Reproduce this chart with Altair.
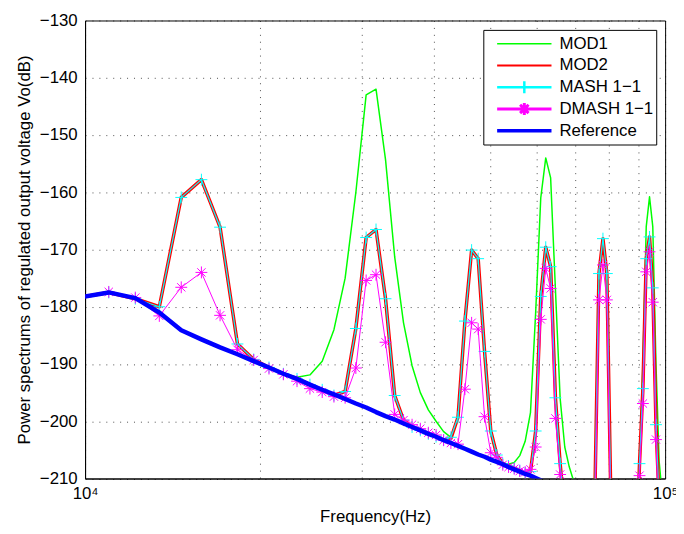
import altair as alt
import pandas as pd

# Frequency bins (Hz)
freq_hz = [9765.6, 10986.3, 12207.0, 13427.7, 14648.4, 15869.1, 17089.8, 18310.5, 19531.3, 20752.0,
           21972.7, 23193.4, 24414.1, 25634.8, 26855.5, 28076.2, 29296.9, 30517.6, 31738.3, 32959.0,
           34179.7, 35400.4, 36621.1, 37841.8, 39062.5, 40283.2, 41503.9, 42724.6, 43945.3, 45166.0,
           46386.7, 47607.4, 48828.1, 50048.8, 51269.5, 52490.2, 53710.9, 54931.6, 56152.3, 57373.0,
           58593.8, 59814.5, 61035.2, 62255.9, 63476.6, 64697.3, 65918.0, 67138.7, 68359.4, 69580.1,
           70800.8, 72021.5, 73242.2, 74462.9, 75683.6, 76904.3, 78125.0, 79345.7, 80566.4, 81787.1,
           83007.8, 84228.5, 85449.2, 86669.9, 87890.6, 89111.3, 90332.0, 91552.7, 92773.4, 93994.1,
           95214.8, 96435.5, 97656.3, 98877.0, 100097.7]

mod1 = [-178.4, -177.5, -178.5, -181.0, -184.0, -185.6, -187.0, -188.3, -189.4, -190.5,
        -191.6, -192.3, -191.9, -189.5, -184.0, -175.0, -160.0, -143.0, -142.0, -154.3,
        -171.3, -182.8, -190.3, -195.0, -198.0, -200.0, -201.8, -202.8, -199.3, -182.5,
        -170.1, -171.6, -187.8, -201.7, -205.9, -207.3, -207.5, -207.2, -206.0, -203.5,
        -198.5, -181.0, -161.0, -154.0, -157.5, -177.0, -196.0, -204.5, -208.0, -210.5,
        -220.0, -230.0, -230.0, -230.0, -212.0, -174.2, -168.1, -174.2, -212.0, -230.0,
        -230.0, -230.0, -230.0, -230.0, -230.0, -230.0, -208.0, -190.0, -166.0, -160.8,
        -166.0, -190.0, -207.0, -213.0, -225.0]

mod2 = [-178.4, -177.5, -178.6, -180.0, -160.9, -157.8, -166.1, -186.5, -189.2, -190.6,
        -191.7, -192.6, -193.6, -194.5, -195.5, -194.8, -183.8, -167.9, -166.5, -178.6,
        -195.5, -199.8, -201.0, -201.6, -202.2, -202.7, -203.3, -203.0, -199.3, -182.5,
        -170.1, -171.6, -187.8, -201.7, -205.9, -207.4, -207.8, -208.2, -208.6, -209.0,
        -208.8, -201.7, -178.2, -169.6, -173.0, -195.9, -207.4, -216.0, -230.0, -230.0,
        -230.0, -230.0, -230.0, -230.0, -212.0, -174.2, -168.1, -174.2, -212.0, -230.0,
        -230.0, -230.0, -230.0, -230.0, -230.0, -225.0, -207.4, -194.3, -171.6, -167.8,
        -176.7, -200.6, -214.0, -225.0, -225.0]

mash = [-178.4, -177.5, -178.6, -180.0, -160.9, -157.8, -166.1, -186.5, -189.2, -190.6,
        -191.7, -192.6, -193.6, -194.5, -195.5, -194.8, -183.8, -167.9, -166.5, -178.6,
        -195.5, -199.8, -201.0, -201.6, -202.2, -202.7, -203.3, -202.8, -199.3, -182.5,
        -170.1, -171.6, -187.8, -201.7, -205.9, -207.4, -207.8, -208.2, -208.6, -209.0,
        -208.8, -201.7, -178.2, -169.6, -173.0, -195.9, -207.4, -216.0, -230.0, -230.0,
        -230.0, -230.0, -230.0, -230.0, -212.0, -174.2, -168.1, -174.2, -212.0, -230.0,
        -230.0, -230.0, -230.0, -230.0, -230.0, -225.0, -207.4, -194.3, -171.6, -167.8,
        -176.7, -200.6, -214.0, -225.0, -225.0]

dmash = [-178.4, -177.4, -178.4, -181.6, -176.6, -174.0, -181.5, -187.5, -189.3, -190.8,
         -191.8, -193.0, -194.3, -194.9, -195.7, -195.9, -190.7, -175.4, -174.4, -186.2,
         -198.8, -199.8, -200.6, -201.3, -202.0, -202.4, -203.3, -203.8, -204.0, -194.4,
         -182.8, -183.9, -199.2, -205.5, -206.3, -207.6, -208.0, -208.3, -208.7, -208.9,
         -208.4, -204.5, -182.2, -173.3, -176.8, -199.5, -209.3, -222.0, -230.0, -230.0,
         -230.0, -230.0, -230.0, -230.0, -216.0, -178.8, -172.7, -178.8, -216.0, -230.0,
         -230.0, -230.0, -230.0, -230.0, -230.0, -230.0, -209.5, -196.9, -173.9, -170.4,
         -179.2, -203.2, -220.0, -230.0, -230.0]

reference = [-178.4, -177.5, -178.5, -181.0, -184.1, -185.7, -187.1, -188.3, -189.5, -190.6,
             -191.7, -192.6, -193.6, -194.5, -195.3, -196.1, -196.9, -197.6, -198.4, -199.1,
             -199.7, -200.4, -201.0, -201.6, -202.2, -202.7, -203.3, -203.8, -204.3, -204.8,
             -205.3, -205.8, -206.2, -206.7, -207.1, -207.5, -208.0, -208.4, -208.8, -209.2,
             -209.5, -209.9, -210.3, -210.6, -211.0, -211.4, -211.7, -212.0, -212.4, -212.7,
             -213.0, -213.3, -213.6, -213.9, -214.2, -214.4, -214.7, -215.0, -215.2, -215.5,
             -215.7, -216.0, -216.2, -216.5, -216.7, -216.9, -217.1, -217.4, -217.6, -217.8,
             -218.0, -218.2, -218.4, -218.6, -218.8]

series_names = ["MOD1", "MOD2", "MASH 1\u22121", "DMASH 1\u22121", "Reference"]
series_values = [mod1, mod2, mash, dmash, reference]
series_colors = ["#00ff00", "#ff0000", "#00ffff", "#ff00ff", "#0000ff"]
series_widths = [1.5, 3.5, 1.2, 1.0, 4.5]

y_ticks = [-210, -200, -190, -180, -170, -160, -150, -140, -130]
x_grid = [10000, 20000, 30000, 40000, 50000, 60000, 70000, 80000, 90000, 100000]

rows = []
for name, vals in zip(series_names, series_values):
    for f, v in zip(freq_hz, vals):
        rows.append({"series": name, "f": f, "db": v})
df = pd.DataFrame(rows)

FONT = "Liberation Sans, Arial, Helvetica, sans-serif"

x_enc = alt.X(
    "f:Q",
    scale=alt.Scale(type="log", domain=[10000, 100000], nice=False),
    axis=alt.Axis(
        values=x_grid,
        labelExpr="datum.value == 10000 ? '10\u2074' : (datum.value == 100000 ? '10\u2075' : '')",
        grid=True, gridDash=[1, 6], gridColor="#000000", gridOpacity=0.7,
        ticks=False, domainColor="black", labelOverlap=False, labelFlush=False, labelBound=False,
        labelFontSize=17, labelColor="black", labelPadding=7,
        titleFontSize=17, titleFontWeight="normal", titleColor="black", titlePadding=8,
    ),
    title="Frequency(Hz)",
)
y_enc = alt.Y(
    "db:Q",
    scale=alt.Scale(domain=[-210, -130], nice=False, zero=False),
    axis=alt.Axis(
        values=y_ticks, format="d",
        grid=True, gridDash=[1, 6], gridColor="#000000", gridOpacity=0.7,
        ticks=False, domainColor="black", labelOverlap=False,
        labelFontSize=17, labelColor="black", labelPadding=8,
        titleFontSize=17, titleFontWeight="normal", titleColor="black", titlePadding=6,
    ),
    title="Power spectrums of regulated output voltage Vo(dB)",
)

base = alt.Chart(df)

def line_layer(name, color, width):
    return base.transform_filter(alt.datum.series == name).mark_line(
        color=color, strokeWidth=width, clip=True, strokeJoin="round"
    ).encode(x=x_enc, y=y_enc, order="f:Q")

PLUS = "M-1,0L1,0M0,-1L0,1"
STAR = "M-1,0L1,0M0,-1L0,1M-0.7,-0.7L0.7,0.7M-0.7,0.7L0.7,-0.7"

def marker_layer(name, color, shape):
    return base.transform_filter(alt.datum.series == name).mark_point(
        shape=shape, size=144, filled=False, color=color, strokeWidth=1, opacity=1, clip=True
    ).encode(x=x_enc, y=y_enc)

legend_paths = [
    "M-1,0L1,0",
    "M-1,0L1,0",
    "M-1,0L1,0M0,-0.22L0,0.22",
    "M-1,0L1,0M0,-0.22L0,0.22M-0.155,-0.155L0.155,0.155M-0.155,0.155L0.155,-0.155",
    "M-1,0L1,0",
]

pad = "\u00a0" * 8
leg = alt.Legend(
    title=None, orient="none", legendX=403, legendY=9.5,
    symbolSize=3025, symbolOffset=9, labelOffset=6, clipHeight=22, rowPadding=0,
    padding=3, strokeColor="black", fillColor="white",
    labelFont=FONT, labelFontSize=17, labelColor="black", labelLimit=400,
    labelExpr="datum.label + '" + pad + "'",
)

legend_layer = alt.Chart(pd.DataFrame({"series": series_names})).transform_filter("false").mark_point(
    filled=False, opacity=1
).encode(
    color=alt.Color("series:N", scale=alt.Scale(domain=series_names, range=series_colors), legend=leg),
    shape=alt.Shape("series:N", scale=alt.Scale(domain=series_names, range=legend_paths), legend=leg),
    strokeWidth=alt.StrokeWidth("series:N", scale=alt.Scale(domain=series_names, range=series_widths), legend=leg),
)

chart = alt.layer(
    line_layer(series_names[0], series_colors[0], series_widths[0]),
    line_layer(series_names[1], series_colors[1], series_widths[1]),
    line_layer(series_names[2], series_colors[2], series_widths[2]),
    marker_layer(series_names[2], series_colors[2], PLUS),
    line_layer(series_names[3], series_colors[3], series_widths[3]),
    marker_layer(series_names[3], series_colors[3], STAR),
    line_layer(series_names[4], series_colors[4], series_widths[4]),
    legend_layer,
).properties(
    width=587, height=463.5,
    padding={"left": 78, "top": 9.5, "right": 11, "bottom": 53},
    autosize=alt.AutoSizeParams(type="none"),
    background="white",
).configure_view(
    stroke="black", strokeWidth=1
).configure_axis(
    labelFont=FONT, titleFont=FONT
)

chart.save("out.html", embed_options={"renderer": "svg", "actions": False})
